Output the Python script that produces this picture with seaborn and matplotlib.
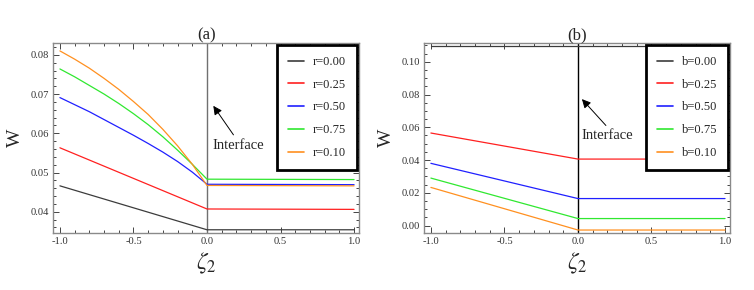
import numpy as np
import pandas as pd
import seaborn as sns
import matplotlib
matplotlib.use("Agg")
import matplotlib.pyplot as plt
from matplotlib.ticker import MultipleLocator, FormatStrFormatter

# ---------------- data ----------------
# Panel (a)
a_labels = ["r=0.00", "r=0.25", "r=0.50", "r=0.75", "r=0.10"]
a_x_curve = [-1.0, -0.9, -0.8, -0.7, -0.6, -0.5, -0.4, -0.3, -0.2, -0.1, 0.0, 1.0]
a_x_line = [-1.0, 0.0, 1.0]
a_r000 = [0.0466, 0.0354, 0.0354]
a_r025 = [0.0563, 0.0407, 0.0406]
a_r050 = [0.0691, 0.0673, 0.0655, 0.0635, 0.0615, 0.0595, 0.0574, 0.0552, 0.0528, 0.0501, 0.0470, 0.0469]
a_r075 = [0.0764, 0.0744, 0.0722, 0.0700, 0.0676, 0.0650, 0.0622, 0.0591, 0.0557, 0.0521, 0.0483, 0.0482]
a_r010 = [0.0810, 0.0789, 0.0766, 0.0740, 0.0712, 0.0681, 0.0648, 0.0610, 0.0568, 0.0521, 0.0467, 0.0466]

# Panel (b)
b_labels = ["b=0.00", "b=0.25", "b=0.50", "b=0.75", "b=0.10"]
b_x = [-1.0, 0.0, 1.0]
b_b000 = [0.1098, 0.1098, 0.1098]
b_b025 = [0.0565, 0.0406, 0.0406]
b_b050 = [0.0380, 0.0165, 0.0165]
b_b075 = [0.0290, 0.0043, 0.0043]
b_b010 = [0.0233, -0.0027, -0.0027]

colors = ["#3c3c3c", "#ff2020", "#2020ff", "#30e830", "#ff9020"]

def long_df(xs_list, ys_list, labels):
    rows = []
    for xs, ys, lab in zip(xs_list, ys_list, labels):
        for x, y in zip(xs, ys):
            rows.append({"x": x, "W": y, "series": lab})
    return pd.DataFrame(rows)

df_a = long_df([a_x_line, a_x_line, a_x_curve, a_x_curve, a_x_curve],
               [a_r000, a_r025, a_r050, a_r075, a_r010], a_labels)
df_b = long_df([b_x] * 5, [b_b000, b_b025, b_b050, b_b075, b_b010], b_labels)

# ---------------- style ----------------
sns.set_theme(style="ticks")
plt.rcParams["font.family"] = ["Liberation Serif", "DejaVu Serif"]
plt.rcParams["mathtext.fontset"] = "stix"

fig = plt.figure(figsize=(7.54, 2.9), dpi=100)
ax_a = fig.add_axes([0.0707, 0.1955, 0.4055, 0.656])
ax_b = fig.add_axes([0.5627, 0.1955, 0.4055, 0.656])


def style_axis(ax, ylim, ymaj, ymin, yfmt):
    ax.set_xlim(-1.045, 1.034)
    ax.set_ylim(*ylim)
    ax.xaxis.set_major_locator(MultipleLocator(0.5))
    ax.xaxis.set_minor_locator(MultipleLocator(0.1))
    ax.yaxis.set_major_locator(MultipleLocator(ymaj))
    ax.yaxis.set_minor_locator(MultipleLocator(ymin))
    ax.xaxis.set_major_formatter(FormatStrFormatter("%.1f"))
    ax.yaxis.set_major_formatter(FormatStrFormatter(yfmt))
    ax.tick_params(which="both", direction="in", top=True, right=True,
                   color="#444444", width=0.7, labelsize=7.6, labelcolor="#333333", pad=3)
    ax.tick_params(which="major", length=4)
    ax.tick_params(which="minor", length=2)
    for s in ax.spines.values():
        s.set_color("#8a8a8a")
        s.set_linewidth(1.0)
    ax.set_xlabel(r"$\zeta_2$", fontsize=17, labelpad=3)
    ax.set_ylabel("W", fontsize=14, labelpad=5)


def draw(ax, df, labels, vcol, title, ylim, ymaj, ymin, yfmt, tip, tail):
    sns.lineplot(data=df, x="x", y="W", hue="series", hue_order=labels,
                 palette=colors, estimator=None, sort=False, linewidth=0.9, ax=ax)
    ax.axvline(0, color=vcol, linewidth=1.0, zorder=1)
    style_axis(ax, ylim, ymaj, ymin, yfmt)
    ax.set_title(title, fontsize=12, pad=2)
    ax.annotate("", xy=tip, xytext=tail,
                arrowprops=dict(arrowstyle="-|>", color="black", lw=0.7,
                                mutation_scale=13, shrinkA=0, shrinkB=0))
    leg = ax.legend(loc="upper right", bbox_to_anchor=(0.993, 0.988), fontsize=9,
                    frameon=True, fancybox=False, framealpha=1, edgecolor="black",
                    borderpad=0.85, labelspacing=0.86, handlelength=1.3,
                    handletextpad=0.7, borderaxespad=0)
    leg.get_frame().set_linewidth(2.0)
    for line in leg.get_lines():
        line.set_linewidth(1.2)
    return ax


draw(ax_a, df_a, a_labels, "#707070", "(a)", (0.0345, 0.0830), 0.01, 0.002, "%.2f",
     (0.043, 0.0670), (0.18, 0.0596))
ax_a.text(0.036, 0.0568, "Interface", fontsize=10.5, va="center", ha="left")

draw(ax_b, df_b, b_labels, "black", "(b)", (-0.0047, 0.1114), 0.02, 0.005, "%.2f",
     (0.027, 0.0772), (0.19, 0.0611))
ax_b.text(0.027, 0.0549, "Interface", fontsize=10.5, va="center", ha="left")

fig.savefig("out.png", dpi=100)
